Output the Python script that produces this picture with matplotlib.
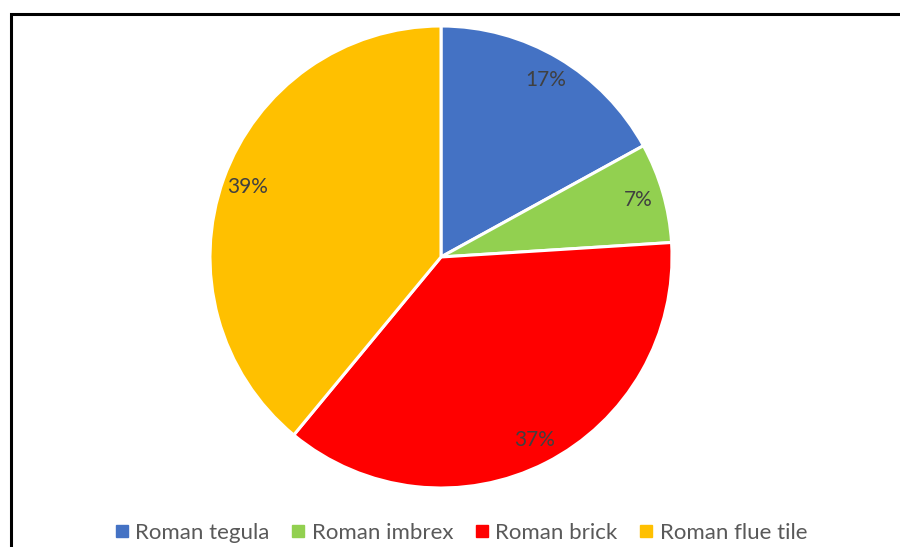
import matplotlib.pyplot as plt
from matplotlib.patches import Rectangle
from matplotlib.lines import Line2D

labels = ["Roman tegula", "Roman imbrex", "Roman brick", "Roman flue tile"]
shares = [17, 7, 37, 39]
colors = ["#4472C4", "#92D050", "#FF0000", "#FFC000"]

plt.rcParams["font.family"] = ["Lato", "DejaVu Sans"]

W, H = 900, 547
fig = plt.figure(figsize=(W / 100, H / 100), dpi=100)

# pie axes: centre (441, 257) px, radius 231 px
r = 231
lim = 1.03
side = 2 * r * lim
cx, cy = 441, 257
ax = fig.add_axes([(cx - side / 2) / W, 1 - (cy + side / 2) / H, side / W, side / H])

wedges, texts, autotexts = ax.pie(
    shares,
    colors=colors,
    startangle=90,
    counterclock=False,
    autopct="%d%%",
    pctdistance=0.89,
    wedgeprops=dict(edgecolor="white", linewidth=2.2),
    textprops=dict(color="#404040", fontsize=15),
)
ax.set_xlim(-lim, lim)
ax.set_ylim(-lim, lim)
ax.set_aspect("equal")

# outer frame around the chart
fig.patches.append(Rectangle((10.5 / W, -0.1), 1.2, 1.1 - 14 / H,
                             transform=fig.transFigure, fill=False,
                             edgecolor="black", linewidth=2.2))

handles = [Line2D([], [], marker="s", linestyle="none", markersize=8.5,
                  markerfacecolor=c, markeredgecolor=c) for c in colors]
fig.legend(handles, labels, loc="center", bbox_to_anchor=(460 / W, 1 - 533 / H),
           ncol=4, frameon=False, fontsize=16, labelcolor="#595959",
           handletextpad=0.2, columnspacing=0.9, handlelength=0.8)

fig.savefig("out.png", dpi=100)
